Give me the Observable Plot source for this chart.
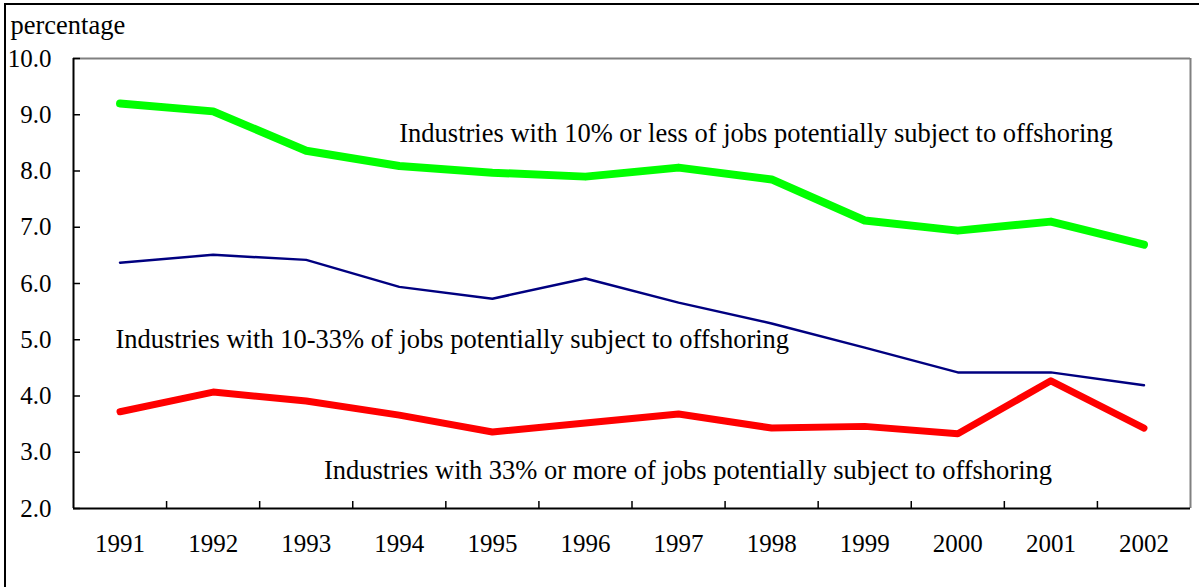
<!DOCTYPE html>
<html><head><meta charset="utf-8">
<script src="https://cdn.jsdelivr.net/npm/d3@7"></script>
<script src="https://cdn.jsdelivr.net/npm/@observablehq/plot@0.6"></script>
<style>
body{margin:0;background:#fff;}
#wrap{position:relative;width:1199px;height:587px;overflow:hidden;background:#fff;}
#border{position:absolute;left:4px;top:3px;width:1300px;height:700px;border-top:2px solid #000;border-left:2px solid #000;}
#chart{position:absolute;left:0;top:0;}
</style></head><body><div id="wrap"><div id="border"></div><div id="chart"></div></div>
<script>
const years = [1991,1992,1993,1994,1995,1996,1997,1998,1999,2000,2001,2002];
const lowShare  = [9.20,9.06,8.36,8.09,7.97,7.90,8.06,7.85,7.12,6.94,7.10,6.69];
const midShare  = [6.37,6.51,6.42,5.94,5.73,6.09,5.66,5.29,4.86,4.42,4.42,4.19];
const highShare = [3.72,4.07,3.91,3.66,3.36,3.52,3.68,3.43,3.46,3.33,4.27,3.43];
const yTicks = [2,3,4,5,6,7,8,9,10];
const seriesNames = [
  "Industries with 10% or less of jobs potentially subject to offshoring",
  "Industries with 10-33% of jobs potentially subject to offshoring",
  "Industries with 33% or more of jobs potentially subject to offshoring"
];
const labelX = [1994.0, 1990.95, 1993.19];
const labelY = [8.67, 5.0, 2.67];

const toRows = (vals) => years.map((y, i) => ({year: y, value: vals[i]}));
const labels = seriesNames.map((t, i) => ({text: t, x: labelX[i], y: labelY[i]}));
const xDomain = [years[0] - 0.5, years[years.length - 1] + 0.5];
const bounds = years.slice(0, -1).map(y => y + 0.5);
const font = "'Liberation Serif', 'Times New Roman', serif";
const blank = () => "";

const chart = Plot.plot({
  width: 1199, height: 587,
  marginLeft: 73, marginRight: 9, marginTop: 58, marginBottom: 79,
  style: {fontFamily: font, fontSize: "25px", background: "transparent", color: "#000"},
  x: {domain: xDomain, type: "linear"},
  y: {domain: [2, 10]},
  marks: [
    Plot.ruleY([10], {stroke: "#808080", strokeWidth: 2}),
    Plot.ruleX([xDomain[1]], {stroke: "#808080", strokeWidth: 2}),
    Plot.axisY({ticks: yTicks, tickSize: 0, tickPadding: 22, tickFormat: d => d.toFixed(1), label: null, fontSize: 25}),
    Plot.axisY({ticks: yTicks, tickSize: -7, tickFormat: blank, label: null, strokeWidth: 1.5}),
    Plot.axisX({ticks: years, tickSize: 0, tickPadding: 26, tickFormat: d => String(d), label: null, fontSize: 25}),
    Plot.axisX({ticks: bounds, tickSize: -7, tickFormat: blank, label: null, strokeWidth: 1.5}),
    Plot.ruleX([xDomain[0]], {stroke: "#000", strokeWidth: 2}),
    Plot.ruleY([2], {stroke: "#000", strokeWidth: 2}),
    Plot.line(toRows(lowShare), {x: "year", y: "value", stroke: "#00ff00", strokeWidth: 8}),
    Plot.line(toRows(midShare), {x: "year", y: "value", stroke: "#000080", strokeWidth: 2.5}),
    Plot.line(toRows(highShare), {x: "year", y: "value", stroke: "#ff0000", strokeWidth: 7}),
    Plot.text(labels, {x: "x", y: "y", text: "text", textAnchor: "start", fontSize: 26.5, fill: "#000"}),
    Plot.text(["percentage"], {frameAnchor: "top-left", dx: -63, dy: -43, textAnchor: "start", fontSize: 26.5, fill: "#000"})
  ]
});
document.getElementById("chart").appendChild(chart);
</script></body></html>
